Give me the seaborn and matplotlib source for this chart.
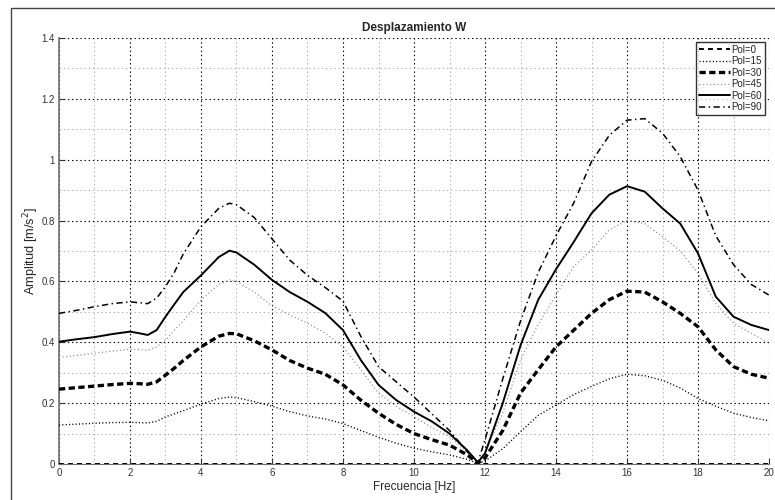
import numpy as np
import pandas as pd
import matplotlib
matplotlib.use('Agg')
import matplotlib.pyplot as plt
import seaborn as sns
from matplotlib.patches import Rectangle

# frequency points [Hz]
freq = [0, 0.5, 1, 1.5, 2, 2.25, 2.5, 2.75, 3, 3.25, 3.5, 4, 4.5, 4.8, 5, 5.5, 6, 6.5,
        7, 7.5, 8, 8.5, 9, 9.5, 10, 10.5, 11, 11.5, 11.8, 12, 12.5, 13, 13.5, 14,
        14.5, 15, 15.5, 16, 16.5, 17, 17.5, 18, 18.5, 19, 19.5, 20]

pol0 = [0.0] * len(freq)
pol15 = [0.128, 0.131, 0.134, 0.136, 0.137, 0.136, 0.135, 0.140, 0.155, 0.165, 0.175,
         0.197, 0.215, 0.220, 0.218, 0.205, 0.190, 0.172, 0.158, 0.148, 0.133, 0.110,
         0.088, 0.068, 0.052, 0.040, 0.030, 0.015, 0.002, 0.010, 0.050, 0.106, 0.160,
         0.194, 0.228, 0.255, 0.280, 0.295, 0.290, 0.275, 0.250, 0.215, 0.190, 0.167,
         0.153, 0.142]
pol30 = [0.246, 0.251, 0.256, 0.261, 0.265, 0.264, 0.262, 0.270, 0.292, 0.315, 0.340,
         0.385, 0.420, 0.429, 0.428, 0.405, 0.375, 0.340, 0.315, 0.295, 0.260, 0.210,
         0.167, 0.130, 0.100, 0.080, 0.062, 0.030, 0.003, 0.020, 0.110, 0.233, 0.310,
         0.385, 0.440, 0.495, 0.540, 0.568, 0.565, 0.533, 0.495, 0.451, 0.375, 0.320,
         0.295, 0.282]
pol45 = [0.350, 0.357, 0.364, 0.371, 0.377, 0.376, 0.374, 0.385, 0.407, 0.440, 0.470,
         0.539, 0.590, 0.605, 0.600, 0.565, 0.520, 0.490, 0.463, 0.430, 0.385, 0.310,
         0.233, 0.190, 0.155, 0.120, 0.090, 0.040, 0.005, 0.040, 0.167, 0.342, 0.460,
         0.556, 0.650, 0.703, 0.770, 0.800, 0.790, 0.747, 0.700, 0.627, 0.528, 0.462,
         0.430, 0.397]
pol60 = [0.402, 0.410, 0.417, 0.427, 0.435, 0.430, 0.424, 0.440, 0.484, 0.525, 0.565,
         0.620, 0.680, 0.701, 0.695, 0.655, 0.605, 0.565, 0.533, 0.496, 0.440, 0.342,
         0.260, 0.210, 0.172, 0.140, 0.100, 0.045, 0.005, 0.035, 0.200, 0.390, 0.540,
         0.640, 0.730, 0.824, 0.885, 0.913, 0.895, 0.840, 0.790, 0.692, 0.550, 0.484,
         0.457, 0.440]
pol90 = [0.495, 0.505, 0.517, 0.527, 0.533, 0.530, 0.527, 0.545, 0.583, 0.630, 0.690,
         0.780, 0.840, 0.857, 0.852, 0.810, 0.740, 0.670, 0.620, 0.580, 0.535, 0.420,
         0.320, 0.270, 0.220, 0.165, 0.110, 0.040, 0.005, 0.080, 0.280, 0.470, 0.630,
         0.750, 0.858, 0.994, 1.080, 1.130, 1.135, 1.087, 1.010, 0.900, 0.750, 0.655,
         0.590, 0.555]

labels = ['Pol=0', 'Pol=15', 'Pol=30', 'Pol=45', 'Pol=60', 'Pol=90']
series = [pol0, pol15, pol30, pol45, pol60, pol90]

xticks = [0, 2, 4, 6, 8, 10, 12, 14, 16, 18, 20]
yticks = [0, 0.2, 0.4, 0.6, 0.8, 1.0, 1.2, 1.4]
ytick_labels = ['0', '0.2', '0.4', '0.6', '0.8', '1', '1.2', '1.4']

sns.set_style('white')
plt.rcParams['font.family'] = ['Liberation Sans', 'DejaVu Sans']
plt.rcParams['lines.scale_dashes'] = False

styles = {
    'Pol=0':  dict(color='black', lw=1.4, dashes=(3.5, 3.0)),
    'Pol=15': dict(color='black', lw=1.0, dashes=(0.8, 1.6)),
    'Pol=30': dict(color='black', lw=2.4, dashes=(4.5, 2.5)),
    'Pol=45': dict(color='#8c8c8c', lw=0.9, dashes=(0.8, 1.8)),
    'Pol=60': dict(color='black', lw=1.4, dashes=None),
    'Pol=90': dict(color='black', lw=1.1, dashes=(4.5, 2.5, 1.0, 2.5)),
}

df = pd.DataFrame({'freq': freq})
for lab, vals in zip(labels, series):
    df[lab] = vals

fig = plt.figure(figsize=(7.75, 5), dpi=100)
ax = fig.add_axes([0.0761, 0.072, 0.9162, 0.852])

for lab in labels:
    st = styles[lab]
    sns.lineplot(data=df, x='freq', y=lab, ax=ax, color=st['color'], lw=st['lw'],
                 label=lab, zorder=3)
    line = ax.lines[-1]
    if st['dashes'] is not None:
        line.set_dashes(st['dashes'])

ax.set_xlim(0, 20)
ax.set_ylim(0, 1.4)
ax.set_xticks(xticks)
ax.set_xticklabels([str(t) for t in xticks])
ax.set_yticks(yticks)
ax.set_yticklabels(ytick_labels)
ax.set_xticks(np.arange(1, 20, 2), minor=True)
ax.set_yticks(np.arange(0.1, 1.4, 0.2), minor=True)

ax.grid(True, which='major', color='black', linestyle=(0, (1, 2)), lw=0.8)
ax.grid(True, which='minor', color='#b0b0b0', linestyle=(0, (1, 2)), lw=0.7)
ax.set_axisbelow(True)

for s in ['top', 'right']:
    ax.spines[s].set_visible(False)
ax.spines['left'].set_color('#707070')
ax.spines['bottom'].set_color('#707070')
ax.spines['left'].set_linewidth(1.2)

ax.tick_params(axis='both', which='major', direction='in', length=4, width=0.8,
               labelsize=7, colors='#333333', pad=3, left=True, bottom=True)
ax.tick_params(axis='both', which='minor', length=0)

ax.set_xlabel('Frecuencia [Hz]', fontsize=8.5, labelpad=2)
ax.set_ylabel('Amplitud [m/s$^2$]', fontsize=9.2)
ax.yaxis.set_label_coords(-0.025, 0.5)
ax.set_title('Desplazamiento W', fontsize=8.5, fontweight='bold', pad=5)

leg = ax.legend(loc='upper right', fontsize=7, frameon=True, fancybox=False,
                handlelength=3.2, handletextpad=0.2, borderpad=0.3,
                labelspacing=0.15, borderaxespad=0.4)
leg.get_frame().set_edgecolor('black')
leg.get_frame().set_linewidth(1.0)

# outer frame of the figure
fig.patches.append(Rectangle((11 / 775, -0.1), 1.2, 1 - 8 / 500 + 0.1,
                             transform=fig.transFigure, fill=False,
                             edgecolor='#444444', lw=1.0))

fig.savefig('out.png', dpi=100)
